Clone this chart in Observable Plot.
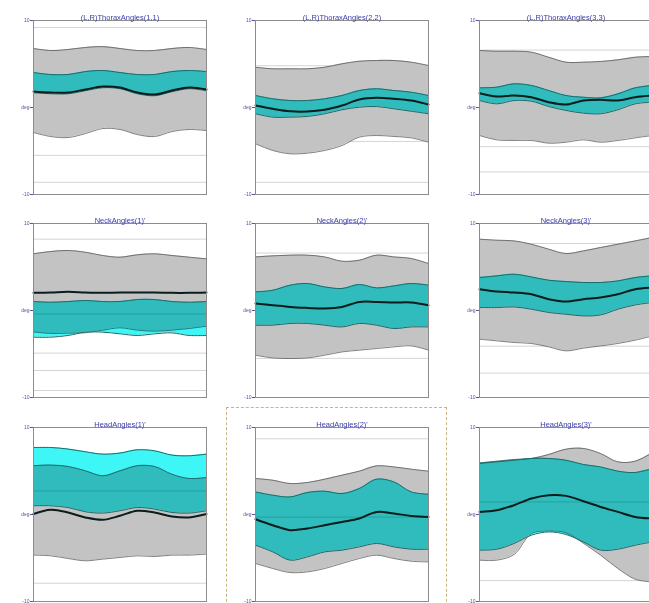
<!DOCTYPE html>
<html>
<head>
<meta charset="utf-8">
<script src="https://cdn.jsdelivr.net/npm/d3@7"></script>
<script src="https://cdn.jsdelivr.net/npm/@observablehq/plot@0.6"></script>
<style>
  html, body { margin: 0; padding: 0; background: #fff; }
  #wrap { position: relative; width: 649px; height: 603px; overflow: hidden; background: #fff; }
  .panel { position: absolute; width: 208px; height: 197px; }
  .panel svg { overflow: visible; max-width: none !important; display: block; }
  #sel { position: absolute; left: 226px; top: 407px; width: 221px; height: 210px; border: 1px dashed #c8b47e; box-sizing: border-box; }
</style>
</head>
<body>
<div id="wrap"><div id="sel"></div></div>
<script>
const xPct = [0, 10, 20, 30, 40, 50, 60, 70, 80, 90, 100];
const titles = ["(L,R)ThoraxAngles(1,1)", "(L,R)ThoraxAngles(2,2)", "(L,R)ThoraxAngles(3,3)",
                "NeckAngles(1)'", "NeckAngles(2)'", "NeckAngles(3)'",
                "HeadAngles(1)'", "HeadAngles(2)'", "HeadAngles(3)'"];
const yTicks = [-10, 0, 10];
const yTickLabels = ["-10", "deg", "10"];

const grayUpper = [
  [6.78, 6.55, 6.67, 6.9, 7.0, 6.78, 6.55, 6.55, 6.78, 6.9, 6.67],
  [4.63, 4.45, 4.45, 4.45, 4.63, 5.02, 5.32, 5.40, 5.40, 5.21, 4.83],
  [6.55, 6.47, 6.47, 6.36, 5.78, 5.21, 5.21, 5.29, 5.48, 5.78, 5.86],
  [6.52, 6.78, 6.90, 6.70, 6.32, 6.13, 6.40, 6.52, 6.32, 6.13, 5.94],
  [6.16, 6.28, 6.36, 6.36, 6.16, 5.67, 5.78, 6.36, 6.16, 5.98, 5.40],
  [8.20, 8.08, 8.0, 7.62, 7.05, 6.55, 6.85, 7.24, 7.62, 8.0, 8.39],
  [5.60, 5.68, 5.52, 5.02, 4.45, 5.02, 5.60, 5.52, 4.63, 4.14, 4.25],
  [4.14, 3.94, 3.56, 3.68, 4.06, 4.52, 4.98, 5.59, 5.47, 5.21, 4.98],
  [5.93, 6.13, 6.32, 6.44, 6.90, 7.51, 7.59, 7.01, 6.05, 6.13, 7.13]
];
const grayLower = [
  [-2.88, -3.34, -3.45, -3.0, -2.42, -2.53, -3.11, -3.34, -2.77, -2.53, -2.65],
  [-4.17, -4.94, -5.32, -5.25, -4.94, -4.37, -3.41, -3.22, -3.33, -3.49, -3.99],
  [-3.22, -3.72, -3.79, -3.79, -4.10, -3.99, -3.72, -3.99, -3.79, -3.49, -3.22],
  [-2.46, -2.64, -2.60, -2.56, -2.26, -1.99, -2.26, -2.38, -2.26, -2.07, -1.80],
  [-5.14, -5.45, -5.52, -5.45, -5.14, -4.76, -4.56, -4.37, -4.18, -4.07, -4.56],
  [-3.30, -3.49, -3.68, -3.79, -4.18, -4.64, -4.33, -4.07, -3.79, -3.41, -2.92],
  [-4.67, -4.75, -5.06, -5.32, -5.13, -4.94, -4.75, -4.83, -4.67, -4.67, -4.55],
  [-5.63, -6.21, -6.67, -6.60, -6.21, -5.63, -5.06, -4.68, -5.06, -5.37, -5.45],
  [-5.25, -5.25, -4.60, -2.2, -1.9, -2.1, -3.3, -4.68, -6.21, -7.44, -7.75]
];
const meanLine = [
  [1.84, 1.72, 1.72, 2.07, 2.41, 2.30, 1.72, 1.49, 1.95, 2.30, 2.07],
  [0.23, -0.15, -0.43, -0.46, -0.26, 0.23, 0.92, 1.11, 1.0, 0.80, 0.34],
  [1.64, 1.26, 1.38, 1.18, 0.61, 0.34, 0.80, 0.89, 0.80, 1.18, 1.38],
  [2.03, 2.07, 2.15, 2.07, 2.03, 2.07, 2.07, 2.07, 2.03, 2.03, 2.07],
  [0.80, 0.61, 0.41, 0.30, 0.23, 0.41, 0.99, 0.99, 0.92, 0.92, 0.61],
  [2.45, 2.18, 2.07, 1.87, 1.30, 1.03, 1.30, 1.49, 1.87, 2.45, 2.64],
  [0.05, 0.54, 0.23, -0.34, -0.61, -0.15, 0.43, 0.23, -0.23, -0.34, 0.05],
  [-0.54, -1.23, -1.80, -1.61, -1.23, -0.85, -0.46, 0.30, 0.11, -0.16, -0.28],
  [0.30, 0.49, 1.07, 1.84, 2.22, 2.14, 1.53, 0.87, 0.30, -0.28, -0.46]
];
const cyanUpper = [
  [4.02, 3.79, 3.79, 4.13, 4.25, 4.02, 3.79, 3.79, 4.13, 4.25, 4.13],
  [1.38, 1.0, 0.80, 0.80, 1.0, 1.38, 1.95, 2.15, 1.95, 1.76, 1.38],
  [2.26, 2.34, 2.72, 2.53, 1.95, 1.38, 1.18, 1.11, 1.57, 2.26, 2.53],
  [1.03, 0.95, 1.03, 1.15, 1.03, 1.03, 1.26, 1.26, 1.03, 0.95, 1.03],
  [2.14, 2.33, 2.91, 3.10, 2.71, 2.53, 2.99, 2.60, 2.83, 3.10, 2.91],
  [3.79, 3.98, 4.17, 3.86, 3.48, 3.33, 3.22, 3.22, 3.40, 3.79, 3.98],
  [7.70, 7.70, 7.52, 7.21, 6.94, 7.06, 7.44, 7.32, 6.83, 6.75, 6.94],
  [2.60, 2.22, 2.02, 2.53, 2.68, 2.41, 2.99, 4.06, 3.75, 2.60, 2.33],
  [5.86, 6.05, 6.24, 6.44, 6.44, 6.24, 5.75, 5.47, 4.98, 4.83, 5.29]
];
const cyanLower = [
  [1.70, 1.58, 1.58, 1.93, 2.27, 2.16, 1.58, 1.35, 1.81, 2.16, 1.93],
  [-0.72, -1.11, -1.11, -1.03, -0.72, -0.26, 0.03, 0.11, -0.15, -0.43, -0.72],
  [0.80, 0.42, 0.80, 0.72, 0.11, -0.34, -0.65, -0.72, -0.26, 0.42, 0.61],
  [-3.07, -3.07, -2.87, -2.49, -2.49, -2.68, -2.87, -2.68, -2.57, -2.87, -2.87],
  [-1.69, -1.69, -1.49, -1.49, -1.69, -1.89, -1.49, -1.69, -2.07, -1.89, -1.89],
  [0.34, 0.34, 0.41, 0.15, -0.23, -0.43, -0.62, -0.51, 0.15, 0.64, 0.92],
  [1.0, 1.0, 0.80, 0.31, 0.16, 0.43, 0.80, 0.62, 0.23, 0.16, 0.43],
  [-3.53, -4.30, -5.25, -4.87, -4.30, -4.10, -3.72, -3.33, -3.72, -3.99, -3.99],
  [-4.10, -3.99, -3.33, -2.38, -2.0, -2.30, -3.15, -4.10, -3.99, -3.53, -3.15]
];
const gridLines = [
  [9.2, -5.5, -8.6], [4.8, -3.9, -8.6], [6.6, -4.5, -7.4],
  [8.2, -4.9, -6.9, -9.2], [6.6, -5.5], [7.7, -4.1, -7.2],
  [-7.9], [8.7], [-7.6]
];
const refLines = [[], [], [], [-0.4], [], [], [2.7], [-0.3], [1.45]];

// layout
const colLeft = [33, 255, 479];
const rowTop = [20, 223, 427];
const ML = 33, MT = 20, MR = 2, MB = 3, PW = 173, PH = 174;
const curve = "catmull-rom";
const wrap = document.getElementById("wrap");

titles.forEach((title, p) => {
  const data = xPct.map((x, i) => ({
    x, gu: grayUpper[p][i], gl: grayLower[p][i], m: meanLine[p][i],
    cu: cyanUpper[p][i], cl: cyanLower[p][i]
  }));
  const chart = Plot.plot({
    width: PW + ML + MR, height: PH + MT + MB,
    marginLeft: ML, marginTop: MT, marginRight: MR, marginBottom: MB,
    style: { background: "transparent", fontFamily: "Liberation Sans, Arial, sans-serif", fontSize: "5px", color: "#55559a", overflow: "visible", maxWidth: "none" },
    x: { domain: [0, 100], axis: null },
    y: { domain: [-10, 10], ticks: yTicks, tickFormat: d => yTickLabels[yTicks.indexOf(d)], tickSize: 3, tickPadding: 1, label: null },
    marks: [
      Plot.ruleY(gridLines[p], { stroke: "#d4d4d4", strokeWidth: 1 }),
      Plot.areaY(data, { x: "x", y1: "gl", y2: "gu", fill: "#c3c3c3", curve }),
      Plot.line(data, { x: "x", y: "gu", stroke: "#4a4a4a", strokeWidth: 0.7, curve }),
      Plot.line(data, { x: "x", y: "gl", stroke: "#4a4a4a", strokeWidth: 0.7, curve }),
      Plot.areaY(data, { x: "x", y1: "cl", y2: "cu", fill: "#3ff6f6", mixBlendMode: "multiply", curve }),
      Plot.ruleY(refLines[p], { stroke: "#1f8080", strokeWidth: 0.8, strokeOpacity: 0.6 }),
      Plot.line(data, { x: "x", y: "cu", stroke: "#1c6a6a", strokeWidth: 1, curve }),
      Plot.line(data, { x: "x", y: "cl", stroke: "#1c6a6a", strokeWidth: 1, curve }),
      Plot.line(data, { x: "x", y: "m", stroke: "#0a1c1c", strokeWidth: 2, curve }),
      Plot.frame({ stroke: "#8c8c8c", strokeWidth: 1 }),
      Plot.text([title], { frameAnchor: "top", dy: -6, fontSize: 7.5, fill: "#3a3aa8" })
    ]
  });
  const div = document.createElement("div");
  div.className = "panel";
  div.style.left = (colLeft[p % 3] - ML) + "px";
  div.style.top = (rowTop[Math.floor(p / 3)] - MT) + "px";
  div.appendChild(chart);
  wrap.appendChild(div);
});
</script>
</body>
</html>
